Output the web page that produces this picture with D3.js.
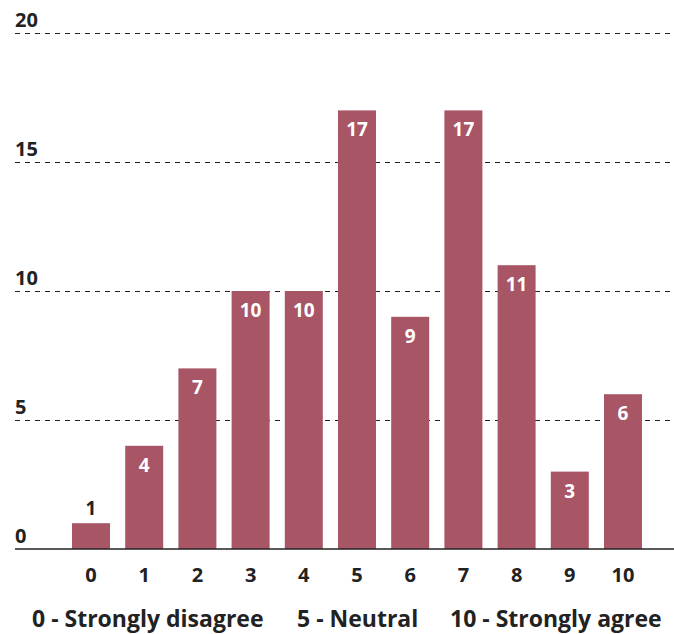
<!DOCTYPE html>
<html>
<head>
<meta charset="utf-8">
<script src="https://cdn.jsdelivr.net/npm/d3@7"></script>
<style>
  html, body { margin: 0; padding: 0; background: #fff; }
  svg { display: block; }
  text { font-family: "Open Sans", "Noto Sans", sans-serif; font-weight: 700; fill: #222; }
</style>
</head>
<body>
<svg id="chart" width="674" height="634"></svg>
<script>
const categories = ["0", "1", "2", "3", "4", "5", "6", "7", "8", "9", "10"];
const values = [1, 4, 7, 10, 10, 17, 9, 17, 11, 3, 6];
const yTicks = [0, 5, 10, 15, 20];
const legendLabels = ["0 - Strongly disagree", "5 - Neutral", "10 - Strongly agree"];

const W = 674, H = 634;
const svg = d3.select("#chart");
const barColor = "#a85565";

const y = d3.scaleLinear().domain([0, 20]).range([549, 33]);
const x = d3.scaleBand().domain(categories).range([64.4, 649.6]).paddingInner(0.286).paddingOuter(0.143);

// gridlines
svg.append("g").selectAll("line").data(yTicks.filter(d => d > 0)).join("line")
  .attr("x1", 15).attr("x2", 672)
  .attr("y1", d => y(d) + 0.5).attr("y2", d => y(d) + 0.5)
  .attr("stroke", "#222").attr("stroke-width", 1)
  .attr("stroke-dasharray", "5,5");

// y labels
svg.append("g").selectAll("text").data(yTicks).join("text")
  .attr("x", 15).attr("y", d => y(d) - 6)
  .attr("font-size", 20)
  .text(d => d);

// bars
svg.append("g").selectAll("rect").data(values).join("rect")
  .attr("x", (d, i) => x(categories[i]))
  .attr("width", x.bandwidth())
  .attr("y", d => y(d))
  .attr("height", d => y(0) - y(d))
  .attr("fill", barColor);

// bar labels
svg.append("g").selectAll("text").data(values).join("text")
  .attr("x", (d, i) => x(categories[i]) + x.bandwidth() / 2)
  .attr("y", d => d >= 2 ? y(d) + 26 : y(d) - 8)
  .attr("text-anchor", "middle")
  .attr("font-size", 19)
  .style("fill", d => d >= 2 ? "#fff" : "#222")
  .text(d => d);

// x axis line
svg.append("line").attr("x1", 15).attr("x2", W).attr("y1", y(0)).attr("y2", y(0))
  .attr("stroke", "#222").attr("stroke-width", 1.5);

// x tick labels
const xAxis = d3.axisBottom(x).tickSize(0).tickPadding(0);
const gx = svg.append("g").attr("transform", `translate(0,${y(0)})`).call(xAxis);
gx.select(".domain").remove();
gx.selectAll("text").attr("dy", null).attr("y", 33)
  .attr("font-size", 20).style("font-family", null).attr("font-family", null);

// legend text
const legendX = [32, 297, 450];
svg.append("g").selectAll("text").data(legendLabels).join("text")
  .attr("x", (d, i) => legendX[i]).attr("y", 627)
  .attr("font-size", 23)
  .text(d => d);
</script>
</body>
</html>
